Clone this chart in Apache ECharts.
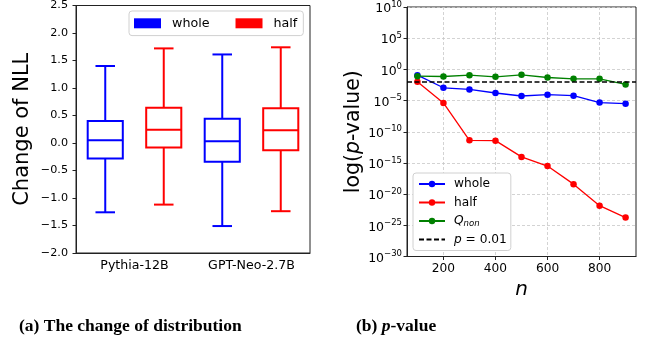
<!DOCTYPE html>
<html>
<head>
<meta charset="utf-8">
<script src="https://cdn.jsdelivr.net/npm/echarts@6/dist/echarts.min.js"></script>
<style>
html,body{margin:0;padding:0;background:#fff;}
#c{width:650px;height:351px;}
</style>
</head>
<body>
<div id="c"></div>
<script>
// ---- data (a) : change of NLL box plots [min, Q1, median, Q3, max]
const categories = ['Pythia-12B', 'GPT-Neo-2.7B'];
const wholeBox = [[-1.26, -0.28, 0.05, 0.40, 1.40], [-1.51, -0.34, 0.03, 0.44, 1.61]];
const halfBox  = [[-1.12, -0.08, 0.24, 0.64, 1.72], [-1.24, -0.13, 0.23, 0.63, 1.74]];
const nllTicks = { min: -2.0, max: 2.5, step: 0.5 };

// ---- data (b) : log10(p-value) vs n
const nValues   = [100, 200, 300, 400, 500, 600, 700, 800, 900];
const logPWhole = [-0.93, -2.95, -3.21, -3.79, -4.27, -4.06, -4.22, -5.33, -5.50];
const logPHalf  = [-2.00, -5.39, -11.38, -11.43, -14.03, -15.50, -18.40, -21.85, -23.76];
const logPQnon  = [-1.09, -1.14, -0.93, -1.19, -0.88, -1.30, -1.51, -1.51, -2.41];
const logPThreshold = -2; // log10(0.01)
const nTickLabels = [200, 400, 600, 800];
const logPTicks = { min: -30, max: 10, step: 5 };
const nRange = [60, 940];

const FONT = 'DejaVu Sans';
const BLUE = '#0000ff', RED = '#ff0000', GREEN = '#008000';

function boxRenderer(color, side) {
  return function (params, api) {
    const band = params.coordSys.width / categories.length;
    const ci = api.value(0);
    const cx = api.coord([ci, 0])[0] + side * band / 4;
    const ys = [1, 2, 3, 4, 5].map(i => api.coord([ci, api.value(i)])[1]);
    const w = band * 0.3;
    const cw = w / 2 + 2;
    const st = { stroke: color, lineWidth: 2, fill: null };
    return {
      type: 'group',
      children: [
        { type: 'line', shape: { x1: cx, y1: ys[1], x2: cx, y2: ys[0] }, style: st },
        { type: 'line', shape: { x1: cx, y1: ys[3], x2: cx, y2: ys[4] }, style: st },
        { type: 'line', shape: { x1: cx - cw / 2, y1: ys[0], x2: cx + cw / 2, y2: ys[0] }, style: st },
        { type: 'line', shape: { x1: cx - cw / 2, y1: ys[4], x2: cx + cw / 2, y2: ys[4] }, style: st },
        { type: 'rect', shape: { x: cx - w / 2, y: ys[3], width: w, height: ys[1] - ys[3] }, style: st },
        { type: 'line', shape: { x1: cx - w / 2, y1: ys[2], x2: cx + w / 2, y2: ys[2] }, style: st }
      ]
    };
  };
}

const legendNames = {
  'b-whole': 'whole',
  'b-half': 'half',
  'b-Qnon': '{i|Q}{sub|non}',
  'b-thr': '{i|p} = 0.01'
};

const chart = echarts.init(document.getElementById('c'), null, { renderer: 'canvas' });
chart.setOption({
  animation: false,
  textStyle: { fontFamily: FONT },
  title: [
    { text: '(a) The change of distribution', left: 14, top: 312,
      textStyle: { fontFamily: 'Liberation Serif', fontWeight: 'bold', fontSize: 17.5, color: '#000' } },
    { text: '{n|(b) }{i|p}{n|-value}', left: 351, top: 312,
      textStyle: { fontFamily: 'Liberation Serif', fontSize: 17.5, color: '#000',
        rich: {
          n: { fontFamily: 'Liberation Serif', fontWeight: 'bold', fontSize: 17.5, color: '#000' },
          i: { fontFamily: 'Liberation Serif', fontStyle: 'italic', fontSize: 17.5, color: '#000' }
        } } }
  ],
  legend: [
    {
      data: ['whole', 'half'],
      left: 129, top: 11, orient: 'horizontal',
      icon: 'rect', itemWidth: 27, itemHeight: 10, itemGap: 26,
      padding: [5.3, 6, 5.3, 5],
      backgroundColor: '#fff', borderColor: '#d0d0d0', borderWidth: 1, borderRadius: 3,
      textStyle: { fontFamily: FONT, fontSize: 12.7, color: '#000', lineHeight: 14, padding: [0, 0, 0, 6] },
      selectedMode: false
    },
    {
      data: ['b-whole', 'b-half', 'b-Qnon', { name: 'b-thr', itemStyle: { opacity: 0 } }],
      left: 413, top: 173, orient: 'vertical',
      itemWidth: 26, itemHeight: 8, itemGap: 4.5,
      padding: [4, 4, 4, 5],
      backgroundColor: '#fff', borderColor: '#d0d0d0', borderWidth: 1, borderRadius: 3,
      formatter: name => legendNames[name],
      textStyle: { fontFamily: FONT, fontSize: 12.2, color: '#000', lineHeight: 14, padding: [0, 0, 0, 4],
        rich: {
          i: { fontFamily: FONT, fontStyle: 'italic', fontSize: 12.2, color: '#000', lineHeight: 14 },
          sub: { fontFamily: FONT, fontStyle: 'italic', fontSize: 8.5, color: '#000', lineHeight: 14, padding: [5, 0, 0, 0] }
        } },
      selectedMode: false
    }
  ],
  grid: [
    { left: 76, top: 5, width: 234, height: 248, show: true, borderColor: '#222', borderWidth: 1, backgroundColor: 'transparent' },
    { left: 407, top: 5, width: 229, height: 251.5, show: true, borderColor: '#222', borderWidth: 1, backgroundColor: 'transparent' }
  ],
  xAxis: [
    {
      type: 'category', gridIndex: 0, data: categories, boundaryGap: true,
      axisLine: { onZero: false, lineStyle: { color: '#222', width: 1 } },
      axisTick: { alignWithLabel: true, length: 3.5, lineStyle: { color: '#222' } },
      axisLabel: { fontFamily: FONT, fontSize: 12.6, color: '#000', margin: 6 },
      splitLine: { show: false }
    },
    {
      type: 'value', gridIndex: 1, min: nRange[0], max: nRange[1],
      name: 'n', nameLocation: 'middle', nameGap: 19,
      nameTextStyle: { fontFamily: FONT, fontStyle: 'italic', fontSize: 20, color: '#000' },
      axisLine: { onZero: false, lineStyle: { color: '#222', width: 1 } },
      axisTick: { length: 3.5, customValues: nTickLabels, lineStyle: { color: '#222' } },
      axisLabel: { fontFamily: FONT, fontSize: 12.2, color: '#000', margin: 6, customValues: nTickLabels },
      splitLine: { show: true, lineStyle: { color: '#c8c8c8', type: [3, 2], width: 0.8 } }
    }
  ],
  yAxis: [
    {
      type: 'value', gridIndex: 0, min: nllTicks.min, max: nllTicks.max, interval: nllTicks.step,
      name: 'Change of NLL', nameLocation: 'middle', nameGap: 43,
      nameTextStyle: { fontFamily: FONT, fontSize: 21, color: '#000' },
      axisLine: { show: true, onZero: false, lineStyle: { color: '#222', width: 1 } },
      axisTick: { show: true, length: 3.5, lineStyle: { color: '#222' } },
      axisLabel: { fontFamily: FONT, fontSize: 11.2, color: '#000', margin: 8,
        formatter: v => (v < 0 ? '\u2212' : '') + Math.abs(v).toFixed(1) },
      splitLine: { show: false }
    },
    {
      type: 'value', gridIndex: 1, min: logPTicks.min, max: logPTicks.max, interval: logPTicks.step,
      name: '{r|log(}{i|p}{r|-value)}', nameLocation: 'middle', nameGap: 42,
      nameTextStyle: { fontFamily: FONT, fontSize: 20.5, color: '#000',
        rich: {
          r: { fontFamily: FONT, fontSize: 20.5, color: '#000' },
          i: { fontFamily: FONT, fontStyle: 'italic', fontSize: 20.5, color: '#000' }
        } },
      axisLine: { show: true, onZero: false, lineStyle: { color: '#222', width: 1 } },
      axisTick: { show: true, length: 3.5, lineStyle: { color: '#222' } },
      axisLabel: { fontFamily: FONT, fontSize: 12.5, color: '#000', margin: 5,
        formatter: v => '{b|10}{s|' + (v < 0 ? '\u2212' : '') + Math.abs(v) + '}',
        rich: {
          b: { fontFamily: FONT, fontSize: 12.5, color: '#000', padding: [4, 0, 0, 0] },
          s: { fontFamily: FONT, fontSize: 8.5, color: '#000', padding: [0, 0, 5, 0] }
        } },
      splitLine: { show: true, lineStyle: { color: '#c8c8c8', type: [3, 2], width: 0.8 } }
    }
  ],
  series: [
    {
      name: 'whole', type: 'custom', xAxisIndex: 0, yAxisIndex: 0,
      itemStyle: { color: BLUE },
      encode: { x: 0, y: [1, 2, 3, 4, 5] },
      data: wholeBox.map((b, i) => [i].concat(b)),
      renderItem: boxRenderer(BLUE, -1)
    },
    {
      name: 'half', type: 'custom', xAxisIndex: 0, yAxisIndex: 0,
      itemStyle: { color: RED },
      encode: { x: 0, y: [1, 2, 3, 4, 5] },
      data: halfBox.map((b, i) => [i].concat(b)),
      renderItem: boxRenderer(RED, 1)
    },
    {
      name: 'b-whole', type: 'line', xAxisIndex: 1, yAxisIndex: 1,
      data: nValues.map((n, i) => [n, logPWhole[i]]),
      symbol: 'circle', symbolSize: 6.5, showSymbol: true,
      itemStyle: { color: BLUE }, lineStyle: { color: BLUE, width: 1.3 }
    },
    {
      name: 'b-half', type: 'line', xAxisIndex: 1, yAxisIndex: 1,
      data: nValues.map((n, i) => [n, logPHalf[i]]),
      symbol: 'circle', symbolSize: 6.5, showSymbol: true,
      itemStyle: { color: RED }, lineStyle: { color: RED, width: 1.3 }
    },
    {
      name: 'b-Qnon', type: 'line', xAxisIndex: 1, yAxisIndex: 1,
      data: nValues.map((n, i) => [n, logPQnon[i]]),
      symbol: 'circle', symbolSize: 6.5, showSymbol: true,
      itemStyle: { color: GREEN }, lineStyle: { color: GREEN, width: 1.3 }
    },
    {
      name: 'b-thr', type: 'line', xAxisIndex: 1, yAxisIndex: 1,
      data: [], symbol: 'none',
      itemStyle: { color: '#000' }, lineStyle: { color: '#000', width: 1.5, type: [5, 2.5] },
      markLine: {
        silent: true, symbol: 'none', label: { show: false },
        lineStyle: { color: '#000', width: 1.5, type: [5, 2.5] },
        emphasis: { disabled: true },
        data: [{ yAxis: logPThreshold }]
      }
    }
  ]
});
</script>
</body>
</html>
